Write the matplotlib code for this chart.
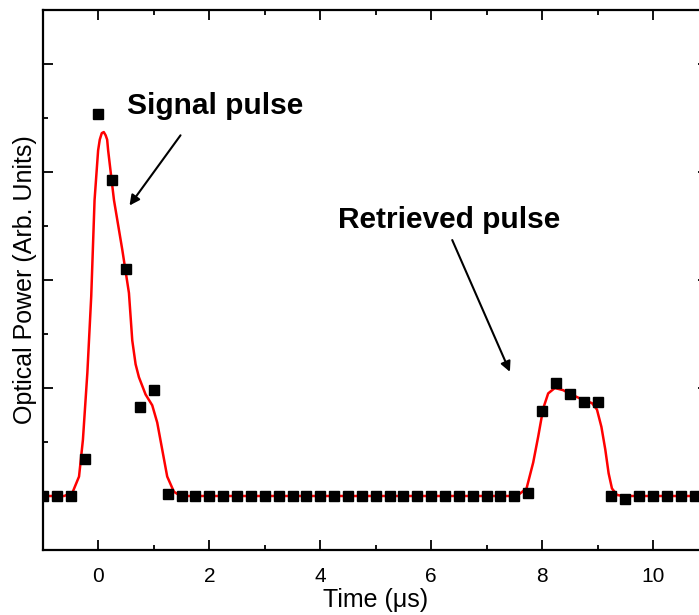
import matplotlib
matplotlib.use('Agg')
import matplotlib.pyplot as plt
from matplotlib.ticker import MultipleLocator

plt.rcParams['font.family'] = ['Liberation Sans', 'DejaVu Sans']

# Messpunkte (alle 0.25 us)
time_us = [-1.0, -0.75, -0.5, -0.25, 0.0, 0.25, 0.5, 0.75, 1.0, 1.25,
           1.5, 1.75, 2.0, 2.25, 2.5, 2.75, 3.0, 3.25, 3.5, 3.75,
           4.0, 4.25, 4.5, 4.75, 5.0, 5.25, 5.5, 5.75, 6.0, 6.25,
           6.5, 6.75, 7.0, 7.25, 7.5, 7.75, 8.0, 8.25, 8.5, 8.75,
           9.0, 9.25, 9.5, 9.75, 10.0, 10.25, 10.5, 10.75, 11.0]
power = [0, 0, 0, 0.34, 3.54, 2.93, 2.10, 0.82, 0.98, 0.02,
         0, 0, 0, 0, 0, 0, 0, 0, 0, 0,
         0, 0, 0, 0, 0, 0, 0, 0, 0, 0,
         0, 0, 0, 0, 0, 0.03, 0.79, 1.05, 0.94, 0.87,
         0.87, 0.0, -0.03, 0, 0, 0, 0, 0, 0]

# Fitkurve
fit_t = [-1.0, -0.62, -0.47, -0.35, -0.28, -0.20, -0.13, -0.07, -0.006, 0.024,
         0.06, 0.096, 0.13, 0.157, 0.175, 0.28, 0.43, 0.55, 0.61, 0.67,
         0.73, 0.85, 0.97, 1.06, 1.15, 1.24, 1.36, 1.48,
         7.45, 7.57, 7.72, 7.84, 7.93, 8.02, 8.11, 8.23, 8.38, 8.53,
         8.74, 8.90, 8.99, 9.07, 9.14, 9.20, 9.26, 9.35, 9.45, 11.0]
fit_v = [0, 0, 0.03, 0.18, 0.52, 1.14, 1.85, 2.74, 3.20, 3.30,
         3.36, 3.37, 3.34, 3.30, 3.20, 2.74, 2.28, 1.88, 1.44, 1.22,
         1.10, 0.94, 0.84, 0.68, 0.43, 0.18, 0.04, 0,
         0, 0.01, 0.07, 0.31, 0.55, 0.81, 0.95, 1.0, 0.98, 0.94,
         0.89, 0.86, 0.80, 0.64, 0.43, 0.21, 0.07, 0.01, 0, 0]

fig = plt.figure(figsize=(6.99, 6.15), dpi=100)
ax = fig.add_axes([0.0615, 0.1057, 0.952, 0.878])

ax.plot(fit_t, fit_v, color='red', lw=1.8, zorder=2)
ax.plot(time_us, power, 's', color='black', ms=7, zorder=3)

ax.set_xlim(-1, 11)
ax.set_ylim(-0.5, 4.5)
ax.xaxis.set_major_locator(MultipleLocator(2))
ax.xaxis.set_minor_locator(MultipleLocator(1))
ax.yaxis.set_major_locator(MultipleLocator(1))
ax.yaxis.set_minor_locator(MultipleLocator(0.5))
ax.tick_params(which='both', direction='in', top=True, right=True, width=1.3)
ax.tick_params(which='major', length=7)
ax.tick_params(which='minor', length=3.6)
ax.tick_params(axis='x', labelsize=15, pad=12)
ax.tick_params(axis='y', labelleft=False)
for s in ax.spines.values():
    s.set_linewidth(1.6)

ax.set_xlabel('Time (μs)', fontsize=18, labelpad=2)
ax.set_ylabel('Optical Power (Arb. Units)', fontsize=18, labelpad=1)

# Beschriftungen mit Pfeilen
ax.text(2.11, 3.61, 'Signal pulse', fontsize=21.5, fontweight='bold',
        ha='center', va='center')
ax.annotate('', xy=(0.56, 2.69), xytext=(1.48, 3.34),
            arrowprops=dict(arrowstyle='-|>', color='black', lw=1.5,
                            mutation_scale=15, shrinkA=0, shrinkB=0))
ax.text(6.32, 2.555, 'Retrieved pulse', fontsize=21.5, fontweight='bold',
        ha='center', va='center')
ax.annotate('', xy=(7.42, 1.15), xytext=(6.38, 2.37),
            arrowprops=dict(arrowstyle='-|>', color='black', lw=1.5,
                            mutation_scale=15, shrinkA=0, shrinkB=0))

fig.savefig('out.png', dpi=100)
